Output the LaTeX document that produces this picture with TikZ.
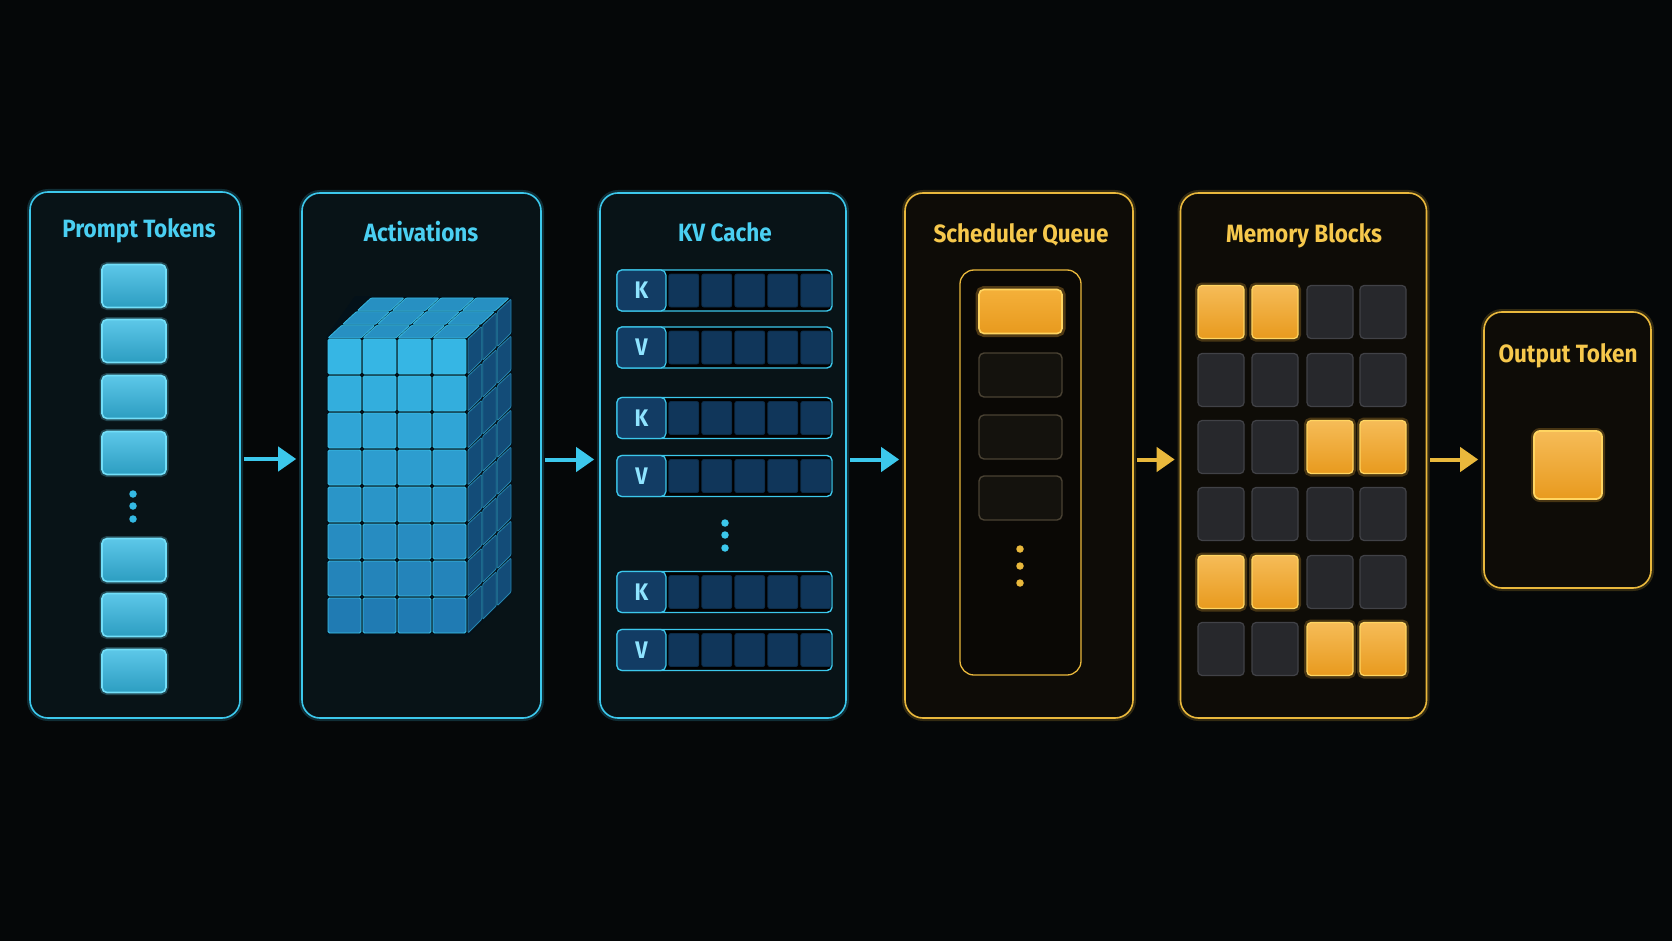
\documentclass[tikz,border=0pt]{standalone}
\usepackage{fontspec}
\setsansfont{Fira Sans}[FakeStretch=0.9]
\usepackage{tikz}
\usetikzlibrary{arrows.meta,positioning}

\definecolor{bg}{HTML}{050708}
\definecolor{cyanline}{HTML}{3CC8EC}
\definecolor{cyanfill}{HTML}{081317}
\definecolor{cyantext}{HTML}{4ACFF2}
\definecolor{tokfill}{HTML}{34B9E3}
\definecolor{tokedge}{HTML}{72DEF8}
\definecolor{goldline}{HTML}{E9B83C}
\definecolor{goldfill}{HTML}{0E0C07}
\definecolor{goldtext}{HTML}{F6C84C}
\definecolor{amber}{HTML}{F4B03A}
\definecolor{amberdeep}{HTML}{E89A1E}
\definecolor{amberedge}{HTML}{FFD561}
\definecolor{slot}{HTML}{27282C}
\definecolor{slotedge}{HTML}{414247}
\definecolor{qslot}{HTML}{14120D}
\definecolor{qedge}{HTML}{4A4233}
\definecolor{kvfill}{HTML}{0D2C4A}
\definecolor{kvcell}{HTML}{123C64}
\definecolor{kvtext}{HTML}{8FE4FF}
\definecolor{cubehi}{HTML}{36B6E4}
\definecolor{cubelo}{HTML}{1A6AA4}
\definecolor{cubetop}{HTML}{2790C2}
\definecolor{cubeside}{HTML}{134C78}
\definecolor{cubegap}{HTML}{041119}

\tikzset{
  panel/.style={rectangle, rounded corners=18pt, line width=1.6pt, inner sep=0pt},
  cyanpanel/.style={panel, draw=cyanline, fill=cyanfill,
    preaction={draw=cyanline, opacity=0.2, line width=6pt}},
  goldpanel/.style={panel, draw=goldline, fill=goldfill,
    preaction={draw=goldline, opacity=0.2, line width=6pt}},
  title/.style={font=\sffamily\bfseries\fontsize{25}{30}\selectfont},
  ctitle/.style={title, text=cyantext},
  gtitle/.style={title, text=goldtext},
  token/.style={rectangle, rounded corners=5pt, minimum width=64pt, minimum height=43pt,
    inner sep=0pt, draw=tokedge, line width=1.6pt, top color=tokfill!80!white, bottom color=tokfill!85!black,
    preaction={draw=tokedge, opacity=0.25, line width=5pt}},
  kvrow/.style={rectangle, rounded corners=5pt, minimum width=215pt, minimum height=41pt,
    inner sep=0pt, draw=cyanline, line width=1.4pt, fill=black},
  kvkey/.style={rectangle, rounded corners=5pt, minimum width=49pt, minimum height=41pt,
    inner sep=0pt, draw=cyanline, line width=1.2pt, fill=kvcell, text=kvtext,
    font=\sffamily\bfseries\fontsize{24}{28}\selectfont},
  kvcellbox/.style={rectangle, rounded corners=2pt, minimum width=30pt, minimum height=33pt,
    inner sep=0pt, fill=kvcell!90!black, draw=kvcell!60!cubegap, line width=0.8pt},
  qbox/.style={rectangle, rounded corners=5pt, minimum width=83pt, minimum height=44pt,
    inner sep=0pt, draw=qedge, line width=1.4pt, fill=qslot},
  block/.style={rectangle, rounded corners=4pt, minimum width=46pt, minimum height=53pt, inner sep=0pt},
  busy/.style={block, top color=amber!85!white, bottom color=amberdeep, draw=amberedge, line width=1.2pt,
    preaction={draw=amber, opacity=0.25, line width=6pt}},
  free/.style={block, fill=slot, draw=slotedge, line width=1.2pt},
  dot/.style={circle, inner sep=0pt, minimum size=7.5pt},
  flowc/.style={draw=cyanline, line width=4pt, -{Triangle[length=18pt,width=24pt]}, shorten <=3pt, shorten >=5pt},
  flowg/.style={draw=goldline, line width=4pt, -{Triangle[length=18pt,width=24pt]}, shorten <=3pt, shorten >=5pt},
}

\begin{document}
\begin{tikzpicture}[x=1pt,y=-1pt]
\fill[bg] (0,0) rectangle (1672,941);
\useasboundingbox (0,0) rectangle (1672,941);

% panels
\node[cyanpanel, minimum width=210pt, minimum height=526pt] (tokens) at (135,455) {};
\node[cyanpanel, minimum width=239pt, minimum height=525pt] (acts) at (421.5,455.5) {};
\node[cyanpanel, minimum width=246pt, minimum height=525pt] (kv) at (723,455.5) {};
\node[goldpanel, minimum width=228pt, minimum height=525pt] (sched) at (1019,455.5) {};
\node[goldpanel, minimum width=246pt, minimum height=525pt] (mem) at (1303.5,455.5) {};
\node[goldpanel, minimum width=167pt, minimum height=276pt] (out) at (1567.5,450) {};

% titles
\node[ctitle] (ttok) at (139,231) {Prompt Tokens};
\node[ctitle] (tact) at (421,232) {Activations};
\node[ctitle] (tkv) at (725,232) {KV Cache};
\node[gtitle] (tsch) at (1021,235) {Scheduler Queue};
\node[gtitle] (tmem) at (1304,236) {Memory Blocks};
\node[gtitle] (tout) at (1568,356) {Output Token};

% prompt tokens
\node[token] (tk1) at (134,286) {};
\node[token] (tk2) at (134,341) {};
\node[token] (tk3) at (134,397) {};
\node[token] (tk4) at (134,453) {};
\node[dot, fill=tokfill] (td1) at (133,494) {};
\node[dot, fill=tokfill] (td2) at (133,506) {};
\node[dot, fill=tokfill] (td3) at (133,519) {};
\node[token] (tk5) at (134,560) {};
\node[token] (tk6) at (134,615) {};
\node[token] (tk7) at (134,671) {};

% activations cube
\fill[cubegap] (326,337) -- (355,296) -- (512,296) -- (512,594) -- (468,636) -- (326,636) -- cycle;
\foreach \k in {0,1,2} {
  \foreach \i in {0,...,3}
    \filldraw[fill=cubetop, draw=cyanline!70!cubetop, line width=0.8pt, rounded corners=1pt]
      ({328+35*\i+\k*14.67},{338-\k*13.67}) -- ({361+35*\i+\k*14.67},{338-\k*13.67})
      -- ({361+35*\i+(\k+1)*14.67-1},{338-(\k+1)*13.67+1}) -- ({328+35*\i+(\k+1)*14.67-1},{338-(\k+1)*13.67+1}) -- cycle;
  \foreach \j in {0,...,7}
    \filldraw[fill=cubeside, draw=cyanline!45!cubeside, line width=0.8pt, rounded corners=1pt]
      ({468+\k*14.67},{339+37*\j-\k*13.67}) -- ({468+(\k+1)*14.67-1},{339+37*\j-(\k+1)*13.67+1})
      -- ({468+(\k+1)*14.67-1},{374+37*\j-(\k+1)*13.67}) -- ({468+\k*14.67},{374+37*\j-\k*13.67}) -- cycle;
}
\foreach \i in {0,...,3}
  \foreach \j in {0,...,7} {
    \pgfmathsetmacro\mix{100-\j*11}
    \filldraw[fill=cubehi!\mix!cubelo, draw=cyanline!80!cubehi, line width=0.9pt, rounded corners=1.5pt]
      ({328+35*\i},{339+37*\j}) rectangle ({361+35*\i},{374+37*\j});
  }

% kv cache rows
\node[kvrow] (r1) at (724.5,290.5) {};
\node[kvrow] (r2) at (724.5,347.5) {};
\node[kvrow] (r3) at (724.5,418) {};
\node[kvrow] (r4) at (724.5,476) {};
\node[kvrow] (r5) at (724.5,592) {};
\node[kvrow] (r6) at (724.5,650) {};
\foreach \r/\l in {r1/K,r2/V,r3/K,r4/V,r5/K,r6/V} {
  \node[kvkey, anchor=west] (\r key) at (\r.west) {\l};
  \foreach \c in {0,...,4}
    \node[kvcellbox] (\r c\c) at ([xshift={67.5+33*\c}]\r.west) {};
}
\node[dot, fill=cyanline] (kd1) at (725,523) {};
\node[dot, fill=cyanline] (kd2) at (725,535) {};
\node[dot, fill=cyanline] (kd3) at (725,548) {};

% scheduler queue
\node[panel, rounded corners=14pt, draw=goldline, line width=1.3pt, fill=goldfill!70!black,
  minimum width=121pt, minimum height=405pt] (queue) at (1020.5,472.5) {};
\node[qbox, draw=amberedge, line width=1.6pt, top color=amber, bottom color=amberdeep,
  preaction={draw=amber, opacity=0.3, line width=7pt}] (q1) at (1020.5,311.5) {};
\node[qbox] (q2) at (1020.5,375) {};
\node[qbox] (q3) at (1020.5,437) {};
\node[qbox] (q4) at (1020.5,498) {};
\node[dot, fill=goldline] (qd1) at (1020,549) {};
\node[dot, fill=goldline] (qd2) at (1020,566) {};
\node[dot, fill=goldline] (qd3) at (1020,583) {};

% memory blocks
\node[busy] (m11) at (1221,312) {};
\node[busy] (m12) at (1275,312) {};
\node[free] (m13) at (1330,312) {};
\node[free] (m14) at (1383,312) {};
\node[free] (m21) at (1221,380) {};
\node[free] (m22) at (1275,380) {};
\node[free] (m23) at (1330,380) {};
\node[free] (m24) at (1383,380) {};
\node[free] (m31) at (1221,447) {};
\node[free] (m32) at (1275,447) {};
\node[busy] (m33) at (1330,447) {};
\node[busy] (m34) at (1383,447) {};
\node[free] (m41) at (1221,514) {};
\node[free] (m42) at (1275,514) {};
\node[free] (m43) at (1330,514) {};
\node[free] (m44) at (1383,514) {};
\node[busy] (m51) at (1221,582) {};
\node[busy] (m52) at (1275,582) {};
\node[free] (m53) at (1330,582) {};
\node[free] (m54) at (1383,582) {};
\node[free] (m61) at (1221,649) {};
\node[free] (m62) at (1275,649) {};
\node[busy] (m63) at (1330,649) {};
\node[busy] (m64) at (1383,649) {};

% output token
\node[busy, minimum width=68pt, minimum height=68pt, rounded corners=6pt, line width=1.8pt] (otok) at (1568,465) {};

% flow
\coordinate (a1) at ([yshift=-4pt]tokens.east);
\draw[flowc] (a1) -- (a1 -| acts.west);
\coordinate (a2) at ([yshift=-4pt]acts.east);
\draw[flowc] (a2) -- (a2 -| kv.west);
\coordinate (a3) at ([yshift=-4pt]kv.east);
\draw[flowc] (a3) -- (a3 -| sched.west);
\coordinate (a4) at ([yshift=-4pt]sched.east);
\draw[flowg] (a4) -- (a4 -| mem.west);
\coordinate (a5) at ([yshift=-4pt]mem.east);
\draw[flowg] (a5) -- (a5 -| out.west);
\end{tikzpicture}
\end{document}
